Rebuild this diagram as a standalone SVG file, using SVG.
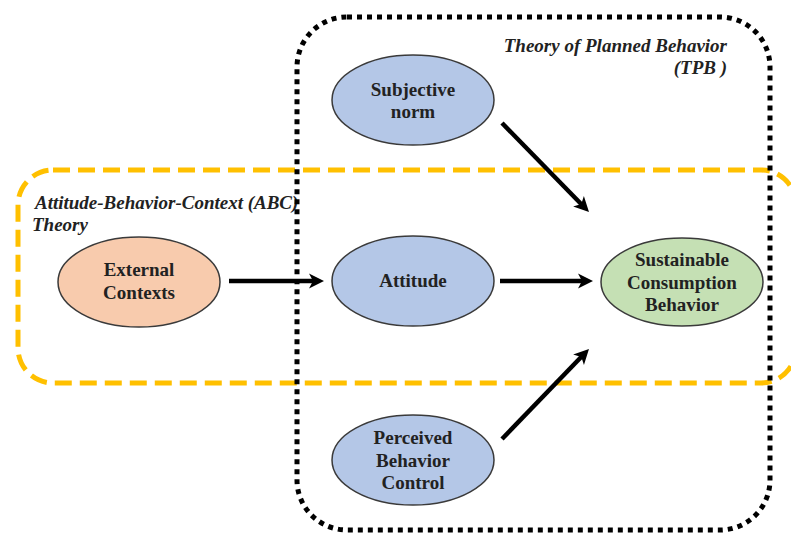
<svg xmlns="http://www.w3.org/2000/svg" width="791" height="535" viewBox="0 0 791 535">
<style>
.node{stroke:#3a3a3a;stroke-width:1.5}
.blue{fill:#b4c7e7}
.orange{fill:#f8cbad}
.green{fill:#c5e0b4}
.conn{stroke:#000;stroke-width:4.5;fill:none;marker-end:url(#arr)}
</style>
<defs>
<marker id="arr" viewBox="0 0 16 16" refX="9" refY="8" markerWidth="16" markerHeight="16" markerUnits="userSpaceOnUse" orient="auto">
<path d="M0,0.5 L15,8 L0,15.5 L4,8 z" fill="#000"/>
</marker>
</defs>
<rect width="791" height="535" fill="#fff"/>
<g id="abc-frame">
<rect x="18" y="170" width="778" height="213" rx="35" ry="35" fill="none" stroke="#ffc000" stroke-width="5" stroke-dasharray="17 8"/>
<text x="35" y="209" font-family="Liberation Serif, serif" font-size="19" font-weight="bold" font-style="italic" fill="#222">Attitude-Behavior-Context (ABC)</text>
<text x="32" y="231" font-family="Liberation Serif, serif" font-size="19" font-weight="bold" font-style="italic" fill="#222">Theory</text>
</g>
<g id="tpb-frame">
<rect x="297" y="17" width="473" height="513" rx="50" ry="50" fill="none" stroke="#000" stroke-width="5" stroke-dasharray="5 5"/>
<text x="727" y="52" text-anchor="end" font-family="Liberation Serif, serif" font-size="19" font-weight="bold" font-style="italic" fill="#222">Theory of Planned Behavior</text>
<text x="727" y="74" text-anchor="end" font-family="Liberation Serif, serif" font-size="19" font-weight="bold" font-style="italic" fill="#222">(TPB )</text>
</g>
<g id="connectors">
<line class="conn" x1="229" y1="281" x2="318" y2="281"/>
<line class="conn" x1="500" y1="281" x2="587" y2="281"/>
<line class="conn" x1="502" y1="123" x2="584.8" y2="207.7"/>
<line class="conn" x1="502" y1="439" x2="584.8" y2="353.3"/>
</g>
<g id="subjective-norm">
<ellipse class="node blue" cx="413" cy="100" rx="81" ry="45"/>
<text x="413" y="96" text-anchor="middle" font-family="Liberation Serif, serif" font-size="19" font-weight="bold" fill="#222">Subjective</text>
<text x="413" y="118" text-anchor="middle" font-family="Liberation Serif, serif" font-size="19" font-weight="bold" fill="#222">norm</text>
</g>
<g id="external-contexts">
<ellipse class="node orange" cx="139" cy="282" rx="81" ry="45"/>
<text x="139" y="276" text-anchor="middle" font-family="Liberation Serif, serif" font-size="19" font-weight="bold" fill="#222">External</text>
<text x="139" y="299" text-anchor="middle" font-family="Liberation Serif, serif" font-size="19" font-weight="bold" fill="#222">Contexts</text>
</g>
<g id="attitude">
<ellipse class="node blue" cx="413" cy="281" rx="81" ry="45"/>
<text x="413" y="287" text-anchor="middle" font-family="Liberation Serif, serif" font-size="19" font-weight="bold" fill="#222">Attitude</text>
</g>
<g id="sustainable-consumption-behavior">
<ellipse class="node green" cx="682" cy="282" rx="81" ry="44"/>
<text x="682" y="266" text-anchor="middle" font-family="Liberation Serif, serif" font-size="19" font-weight="bold" fill="#222">Sustainable</text>
<text x="682" y="289" text-anchor="middle" font-family="Liberation Serif, serif" font-size="19" font-weight="bold" fill="#222">Consumption</text>
<text x="682" y="311" text-anchor="middle" font-family="Liberation Serif, serif" font-size="19" font-weight="bold" fill="#222">Behavior</text>
</g>
<g id="perceived-behavior-control">
<ellipse class="node blue" cx="413" cy="460" rx="81" ry="45"/>
<text x="413" y="444" text-anchor="middle" font-family="Liberation Serif, serif" font-size="19" font-weight="bold" fill="#222">Perceived</text>
<text x="413" y="467" text-anchor="middle" font-family="Liberation Serif, serif" font-size="19" font-weight="bold" fill="#222">Behavior</text>
<text x="413" y="489" text-anchor="middle" font-family="Liberation Serif, serif" font-size="19" font-weight="bold" fill="#222">Control</text>
</g>
</svg>
